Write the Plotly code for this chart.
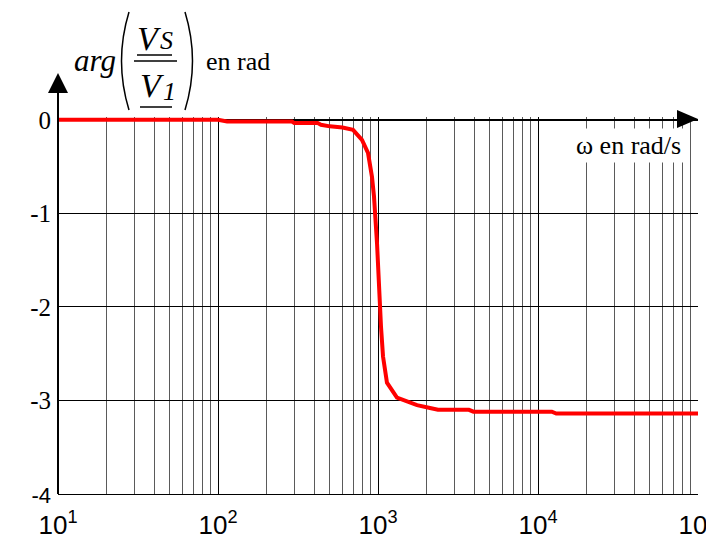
import plotly.graph_objects as go

# Phase of Vs/V1 (rad), pulsation in rad/s.
omega = [10, 100, 114, 290, 300, 420, 440, 500, 600, 698, 794, 866, 917, 944,
         986, 1014, 1044, 1075, 1138, 1314, 1585, 1753, 2113, 2371, 3700, 3950,
         12200, 13000, 100000]
phase = [0, 0, -0.018, -0.018, -0.035, -0.035, -0.053, -0.07, -0.082, -0.107,
         -0.214, -0.353, -0.61, -0.82, -1.32, -1.89, -2.21, -2.53, -2.81, -2.97,
         -3.02, -3.05, -3.08, -3.10, -3.10, -3.12, -3.12, -3.14, -3.14]

x_ticks = [10, 100, 1000, 10000, 100000]
x_labels = ["10<sup>1</sup>", "10<sup>2</sup>", "10<sup>3</sup>", "10<sup>4</sup>", "10<sup>5</sup>"]
x_minor = [m * d for d in [10, 100, 1000, 10000] for m in range(2, 10)]
y_ticks = [0, -1, -2, -3, -4]
y_labels = ["0", "-1", "-2", "-3", "<span style='font-family:Arial;font-size:22px'>-4</span>"]

# page has an 8px body margin, so the figure starts at (8, 8) on screen
OFF = 8
# plot area in screen pixels
L, R, T, B = 58, 698, 117, 494


def px(x):
    return (x - L) / (R - L)


def py(y):
    return (B - y) / (B - T)


serif = "Liberation Serif, Times New Roman, serif"

fig = go.Figure()
fig.add_trace(go.Scatter(x=omega, y=phase, mode="lines",
                         line=dict(color="#ff0000", width=4), hoverinfo="skip"))

shapes = []
# y axis with arrow
shapes.append(dict(type="line", xref="paper", yref="paper", x0=0, x1=0, y0=0, y1=py(92),
                   line=dict(color="black", width=2)))
shapes.append(dict(type="path", xref="paper", yref="paper", fillcolor="black", line=dict(width=0),
                   path=f"M {px(48)},{py(93)} L {px(68)},{py(93)} L {px(58)},{py(73)} Z"))
# x axis arrow head on the zero line
shapes.append(dict(type="path", xref="paper", yref="paper", fillcolor="black", line=dict(width=0),
                   path=f"M {px(677)},{py(110)} L {px(677)},{py(128)} L {px(698)},{py(119)} Z"))
# parentheses, fraction bar and underlines of the y label
shapes.append(dict(type="path", xref="paper", yref="paper", line=dict(color="black", width=1.5),
                   path=f"M {px(129)},{py(12)} Q {px(114)},{py(61)} {px(129)},{py(110)}"))
shapes.append(dict(type="path", xref="paper", yref="paper", line=dict(color="black", width=1.5),
                   path=f"M {px(185)},{py(12)} Q {px(200)},{py(61)} {px(185)},{py(110)}"))
for x0, x1, y in [(137, 172, 55), (134, 177, 61), (140, 172, 107)]:
    shapes.append(dict(type="line", xref="paper", yref="paper", x0=px(x0), x1=px(x1),
                       y0=py(y), y1=py(y), line=dict(color="black", width=1.5)))

annotations = [
    dict(text="<i>arg</i>", x=px(72), y=py(60), xanchor="left", yanchor="middle",
         font=dict(family=serif, size=31)),
    dict(text="<i>V</i>", x=px(135), y=py(38), xanchor="left", yanchor="middle",
         font=dict(family=serif, size=34)),
    dict(text="<i>S</i>", x=px(158), y=py(41), xanchor="left", yanchor="middle",
         font=dict(family=serif, size=26)),
    dict(text="<i>V</i>", x=px(138), y=py(86), xanchor="left", yanchor="middle",
         font=dict(family=serif, size=34)),
    dict(text="<i>1</i>", x=px(161), y=py(91), xanchor="left", yanchor="middle",
         font=dict(family=serif, size=26)),
    dict(text="en rad", x=px(204), y=py(62), xanchor="left", yanchor="middle",
         font=dict(family=serif, size=26)),
    dict(text="\u03c9 en rad/s", x=px(628), y=py(145), xanchor="center", yanchor="middle",
         font=dict(family=serif, size=26), bgcolor="white", borderpad=2),
]
for a in annotations:
    a.update(xref="paper", yref="paper", showarrow=False)
    a["font"]["color"] = "black"

fig.update_layout(
    width=714 - OFF, height=540 - OFF,
    margin=dict(l=L - OFF, r=714 - R, t=T - OFF, b=540 - B),
    plot_bgcolor="white", paper_bgcolor="white",
    showlegend=False,
    shapes=shapes,
    annotations=annotations,
    xaxis=dict(type="log", range=[1, 5], tickvals=x_ticks, ticktext=x_labels,
               showgrid=True, gridcolor="black", gridwidth=1,
               minor=dict(tickvals=x_minor, showgrid=True, gridcolor="#5a5a5a", gridwidth=1),
               showline=True, linecolor="black", linewidth=1, mirror=False,
               tickfont=dict(family="Arial, Liberation Sans, sans-serif", size=26, color="black"),
               ticks="", zeroline=False, ticklabelstandoff=8, ticklabeloverflow="allow",
               automargin=False),
    yaxis=dict(range=[-4, 0.03], tickvals=y_ticks, ticktext=y_labels,
               showgrid=True, gridcolor="black", gridwidth=1,
               zeroline=True, zerolinecolor="black", zerolinewidth=2,
               showline=False, ticks="", ticklabelstandoff=6, ticklabeloverflow="allow",
               tickfont=dict(family=serif, size=25, color="black"), automargin=False),
)

fig.write_html("out.html")
